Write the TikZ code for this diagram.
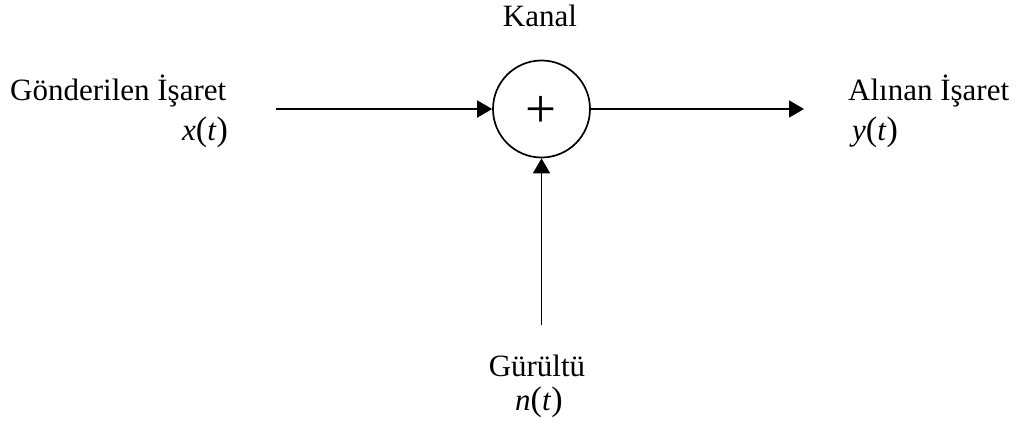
\documentclass[tikz,border=0pt]{standalone}
\usepackage{fontspec}
\setmainfont{Liberation Serif}
\usetikzlibrary{arrows.meta}
\newcommand{\bigpar}[1]{{\fontsize{34}{38}\selectfont #1}}
\newcommand{\sig}[1]{\textit{#1}\bigpar{(}\textit{t}\bigpar{)}}
\begin{document}
\begin{tikzpicture}[x=1pt,y=-1pt,
  lbl/.style={inner sep=0pt,font=\fontsize{31}{37}\selectfont},
  conn/.style={line width=1.7pt,-{Triangle[length=15pt,width=17pt]}},
  sumbox/.style={draw,circle,line width=1.7pt,minimum size=97pt,inner sep=0pt}]
\useasboundingbox (0,0) rectangle (1026,428);
\node[sumbox] (sum) at (541.5,109) {};
\node[inner sep=0pt,font=\fontsize{55}{60}\selectfont] (plus) at (541,112) {+};
\node[lbl,anchor=base] (kanal) at (540,27) {Kanal};
\node[lbl,anchor=base west] (gond) at (10,100) {Gönderilen İşaret};
\node[lbl,anchor=base west] (xt) at (182,140) {\sig{x}};
\node[lbl,anchor=base west] (alin) at (848,100) {Alınan İşaret};
\node[lbl,anchor=base west] (yt) at (852,140) {\sig{y}};
\node[lbl,anchor=base] (gur) at (537,376) {Gürültü};
\node[lbl,anchor=base west] (nt) at (515,410) {\sig{n}};
\coordinate (inA) at (276,109);
\coordinate (outA) at (804,109);
\coordinate (noiseA) at (541.5,325);
\draw[conn] (inA) -- (sum.west);
\draw[conn] (sum.east) -- (outA);
\draw[conn] (noiseA) -- (sum.south);
\end{tikzpicture}
\end{document}
